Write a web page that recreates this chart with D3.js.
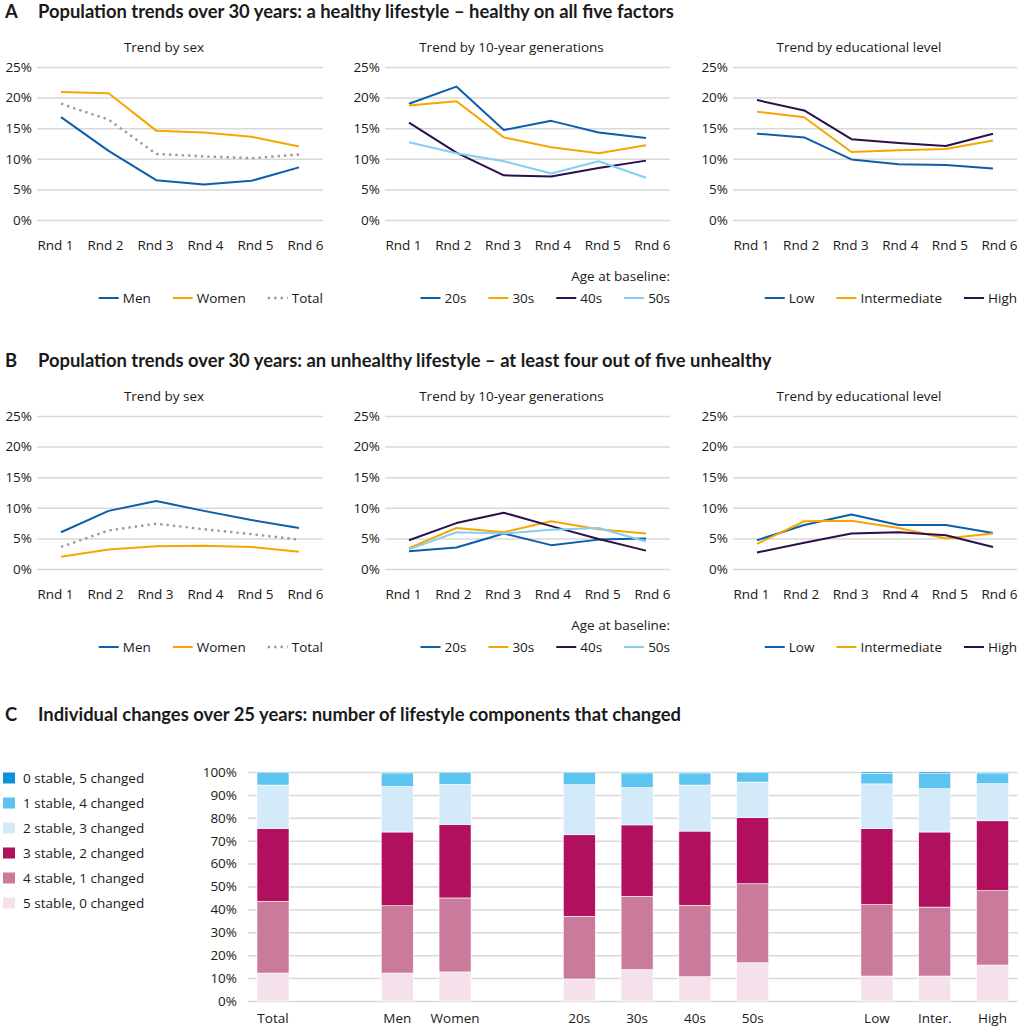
<!DOCTYPE html>
<html>
<head>
<meta charset="utf-8">
<script src="https://cdn.jsdelivr.net/npm/d3@7"></script>
<style>
  body { margin: 0; background: #fff; }
  svg text { font-family: "Open Sans", "Noto Sans", sans-serif; fill: #1a1a1a; }
  svg text.title { font-family: Lato, "Open Sans", sans-serif; font-weight: bold; }
</style>
</head>
<body>
<svg id="chart" width="1021" height="1028"></svg>
<script>
// lifestyle.js

// ---- data ----
const rounds = ["Rnd 1", "Rnd 2", "Rnd 3", "Rnd 4", "Rnd 5", "Rnd 6"];
const yTicksLine = [0, 5, 10, 15, 20, 25];

// A: healthy on all five factors (%)
const healthyMen = [16.8, 11.3, 6.5, 5.8, 6.4, 8.6];
const healthyWomen = [20.9, 20.7, 14.6, 14.3, 13.6, 12.0];
const healthyTotal = [19.0, 16.4, 10.8, 10.4, 10.1, 10.7];
const healthy20s = [19.0, 21.8, 14.7, 16.2, 14.3, 13.4];
const healthy30s = [18.7, 19.4, 13.5, 11.9, 10.9, 12.2];
const healthy40s = [15.9, 11.0, 7.3, 7.1, 8.5, 9.7];
const healthy50s = [12.7, 10.9, 9.6, 7.6, 9.6, 6.9];
const healthyLow = [14.1, 13.5, 9.9, 9.1, 9.0, 8.4];
const healthyInter = [17.7, 16.8, 11.1, 11.4, 11.6, 13.0];
const healthyHigh = [19.6, 17.9, 13.2, 12.6, 12.1, 14.1];

// B: at least four out of five unhealthy (%)
const unhealthyMen = [6.0, 9.5, 11.1, 9.5, 8.0, 6.7];
const unhealthyWomen = [2.0, 3.2, 3.7, 3.8, 3.6, 2.8];
const unhealthyTotal = [3.6, 6.3, 7.4, 6.5, 5.7, 4.8];
const unhealthy20s = [2.9, 3.5, 5.8, 3.9, 4.8, 5.0];
const unhealthy30s = [3.4, 6.7, 6.0, 7.8, 6.5, 5.8];
const unhealthy40s = [4.7, 7.5, 9.2, 7.0, 4.9, 3.0];
const unhealthy50s = [3.2, 6.0, 5.8, 6.4, 6.7, 4.5];
const unhealthyLow = [4.7, 7.2, 8.9, 7.2, 7.2, 5.9];
const unhealthyInter = [4.1, 7.8, 7.9, 6.7, 5.0, 5.8];
const unhealthyHigh = [2.7, 4.3, 5.8, 6.0, 5.5, 3.6];

// C: individual changes (% of each group)
const barCategories = ["Total", "Men", "Women", "20s", "30s", "40s", "50s", "Low", "Inter.", "High"];
const barGroups = [0, 1, 1, 2, 2, 2, 2, 3, 3, 3];
const stable5 = [12.2, 12.2, 12.7, 9.6, 13.7, 10.6, 16.7, 10.9, 10.9, 15.7];
const stable4 = [31.3, 29.4, 32.3, 27.4, 32.0, 31.2, 34.5, 31.2, 30.1, 32.5];
const stable3 = [31.9, 32.2, 32.1, 35.6, 31.2, 32.4, 28.9, 33.2, 32.8, 30.5];
const stable2 = [18.9, 19.9, 17.5, 21.9, 16.3, 20.1, 15.5, 19.5, 18.9, 16.2];
const stable1 = [5.4, 5.9, 5.1, 5.2, 6.4, 5.3, 4.1, 4.6, 6.6, 4.7];
const stable0 = [0.3, 0.4, 0.3, 0.3, 0.4, 0.4, 0.3, 0.6, 0.7, 0.4];
const stackLabels = ["5 stable, 0 changed", "4 stable, 1 changed", "3 stable, 2 changed",
                     "2 stable, 3 changed", "1 stable, 4 changed", "0 stable, 5 changed"];
const yTicksBar = [0, 10, 20, 30, 40, 50, 60, 70, 80, 90, 100];

// ---- colours ----
const blue = "#0d5eaa", orange = "#f7a600", plum = "#2d0f4b", sky = "#86cdf2", grey = "#9a9a9a";
const gridColor = "#d9d9d9";
const stackColors = ["#f5e1ec", "#ca7a9a", "#b0105e", "#d3eaf9", "#5dc4f0", "#0c91d8"];
const fontSize = "13.5px";

const svg = d3.select("#chart");
svg.append("rect").attr("width", 1021).attr("height", 1028).attr("fill", "#fff");

function panelTitle(letter, text, baseline) {
    svg.append("text").attr("class", "title").attr("x", 5).attr("y", baseline)
        .style("font-size", "18.4px").text(letter);
    svg.append("text").attr("class", "title").attr("x", 38).attr("y", baseline)
        .style("font-size", "18.4px").text(text);
}

function lineChart(opts) {
    const { left, right, top, bottom, subtitle, series, legendNote } = opts;
    const g = svg.append("g");

    const y = d3.scaleLinear().domain([0, 25]).range([bottom, top]);
    const xPts = d3.scalePoint().domain(rounds).range([left + 24, right - 24]);
    const xLab = d3.scalePoint().domain(rounds).range([left + 18, right - 18]);

    const yAxis = g.append("g").attr("transform", `translate(${left},0)`)
        .call(d3.axisLeft(y).tickValues(yTicksLine).tickSize(-(right - left)).tickPadding(5).tickFormat(d => d + "%"));
    yAxis.select(".domain").remove();
    yAxis.selectAll(".tick line").style("stroke", gridColor).style("stroke-width", 1.5);
    yAxis.selectAll("text").style("font-size", fontSize).style("fill", "#1a1a1a");

    const xAxis = g.append("g").attr("transform", `translate(0,${bottom})`)
        .call(d3.axisBottom(xLab).tickSize(0).tickPadding(20));
    xAxis.select(".domain").remove();
    xAxis.selectAll("text").style("font-size", fontSize).style("fill", "#1a1a1a");

    g.append("text").attr("x", (left - 32 + right) / 2).attr("y", top - 15)
        .attr("text-anchor", "middle").style("font-size", fontSize).text(subtitle);

    const line = d3.line().x((d, i) => xPts(rounds[i])).y(d => y(d));
    series.forEach(s => {
        g.append("path").datum(s.values)
            .attr("fill", "none").attr("stroke", s.color)
            .attr("stroke-width", s.dotted ? 2.4 : 2)
            .attr("stroke-dasharray", s.dotted ? "2.4,4" : null)
            .attr("stroke-linejoin", "round")
            .attr("d", line);
    });

    // legend, right aligned to the gridline end
    const legend = g.append("g");
    let cx = 0;
    series.forEach(s => {
        const item = legend.append("g").attr("transform", `translate(${cx},0)`);
        item.append("line").attr("x1", 0).attr("x2", 20).attr("y1", -5).attr("y2", -5)
            .attr("stroke", s.color).attr("stroke-width", s.dotted ? 2.4 : 2)
            .attr("stroke-dasharray", s.dotted ? "2.4,4" : null);
        const t = item.append("text").attr("x", 24).attr("y", 0).style("font-size", fontSize).text(s.name);
        cx += 24 + t.node().getComputedTextLength() + 22;
    });
    const legendWidth = cx - 22;
    legend.attr("transform", `translate(${right - legendWidth},${bottom + 83})`);

    if (legendNote) {
        g.append("text").attr("x", right).attr("y", bottom + 61)
            .attr("text-anchor", "end").style("font-size", fontSize).text(legendNote);
    }
}

function linePanels(offset, data) {
    const top = 67 + offset, bottom = 220 + offset;
    lineChart({ left: 37, right: 323, top, bottom, subtitle: "Trend by sex",
        series: [
            { name: "Men", values: data.men, color: blue },
            { name: "Women", values: data.women, color: orange },
            { name: "Total", values: data.total, color: grey, dotted: true }
        ] });
    lineChart({ left: 385, right: 670, top, bottom, subtitle: "Trend by 10-year generations",
        legendNote: "Age at baseline:",
        series: [
            { name: "20s", values: data.g20, color: blue },
            { name: "30s", values: data.g30, color: orange },
            { name: "40s", values: data.g40, color: plum },
            { name: "50s", values: data.g50, color: sky }
        ] });
    lineChart({ left: 733, right: 1017, top, bottom, subtitle: "Trend by educational level",
        series: [
            { name: "Low", values: data.low, color: blue },
            { name: "Intermediate", values: data.inter, color: orange },
            { name: "High", values: data.high, color: plum }
        ] });
}

// ---- A ----
panelTitle("A", "Population trends over 30 years: a healthy lifestyle \u2013 healthy on all five factors", 18);
linePanels(0, { men: healthyMen, women: healthyWomen, total: healthyTotal,
    g20: healthy20s, g30: healthy30s, g40: healthy40s, g50: healthy50s,
    low: healthyLow, inter: healthyInter, high: healthyHigh });

// ---- B ----
panelTitle("B", "Population trends over 30 years: an unhealthy lifestyle \u2013 at least four out of five unhealthy", 367);
linePanels(349, { men: unhealthyMen, women: unhealthyWomen, total: unhealthyTotal,
    g20: unhealthy20s, g30: unhealthy30s, g40: unhealthy40s, g50: unhealthy50s,
    low: unhealthyLow, inter: unhealthyInter, high: unhealthyHigh });

// ---- C ----
panelTitle("C", "Individual changes over 25 years: number of lifestyle components that changed", 721);

const barTable = barCategories.map((c, i) => ({
    cat: c, s5: stable5[i], s4: stable4[i], s3: stable3[i], s2: stable2[i], s1: stable1[i], s0: stable0[i]
}));
const keys = ["s5", "s4", "s3", "s2", "s1", "s0"];
const stacked = d3.stack().keys(keys)(barTable);

// position units: 1 between neighbours, a wider gap between groups
const groupGap = 2.15;
const unitPos = [];
barCategories.forEach((c, i) => {
    if (i === 0) unitPos.push(0);
    else unitPos.push(unitPos[i - 1] + (barGroups[i] !== barGroups[i - 1] ? groupGap : 1));
});
const xBar = d3.scaleLinear().domain([0, unitPos[unitPos.length - 1]]).range([273, 992.5]);
const yBar = d3.scaleLinear().domain([0, 100]).range([1001, 772]);
const barWidth = 32;

const barAxis = svg.append("g").attr("transform", "translate(248,0)")
    .call(d3.axisLeft(yBar).tickValues(yTicksBar).tickSize(-(1018 - 248)).tickPadding(11).tickFormat(d => d + "%"));
barAxis.select(".domain").remove();
barAxis.selectAll(".tick line").style("stroke", gridColor).style("stroke-width", 1.5);
barAxis.selectAll("text").style("font-size", fontSize).style("fill", "#1a1a1a");

svg.append("g").selectAll("g").data(stacked).join("g")
    .attr("fill", (d, i) => stackColors[i])
    .selectAll("rect").data(d => d).join("rect")
    .attr("x", (d, i) => xBar(unitPos[i]) - barWidth / 2)
    .attr("width", barWidth)
    .attr("y", d => yBar(Math.min(d[1], 100)))
    .attr("height", d => yBar(d[0]) - yBar(Math.min(d[1], 100)))
    .attr("stroke", "#fff").attr("stroke-width", 0.6);

svg.append("g").selectAll("text").data(barCategories).join("text")
    .attr("x", (d, i) => xBar(unitPos[i])).attr("y", 1023)
    .attr("text-anchor", "middle").style("font-size", fontSize).text(d => d);

// legend C (top row = last stack key)
const legendC = svg.append("g");
stackLabels.slice().reverse().forEach((lab, i) => {
    const row = legendC.append("g").attr("transform", `translate(3,${778 + i * 25})`);
    row.append("rect").attr("x", 0).attr("y", -5.5).attr("width", 12).attr("height", 11)
        .attr("fill", stackColors[stackColors.length - 1 - i]);
    row.append("text").attr("x", 20).attr("y", 5).style("font-size", fontSize).text(lab);
});
</script>
</body>
</html>
